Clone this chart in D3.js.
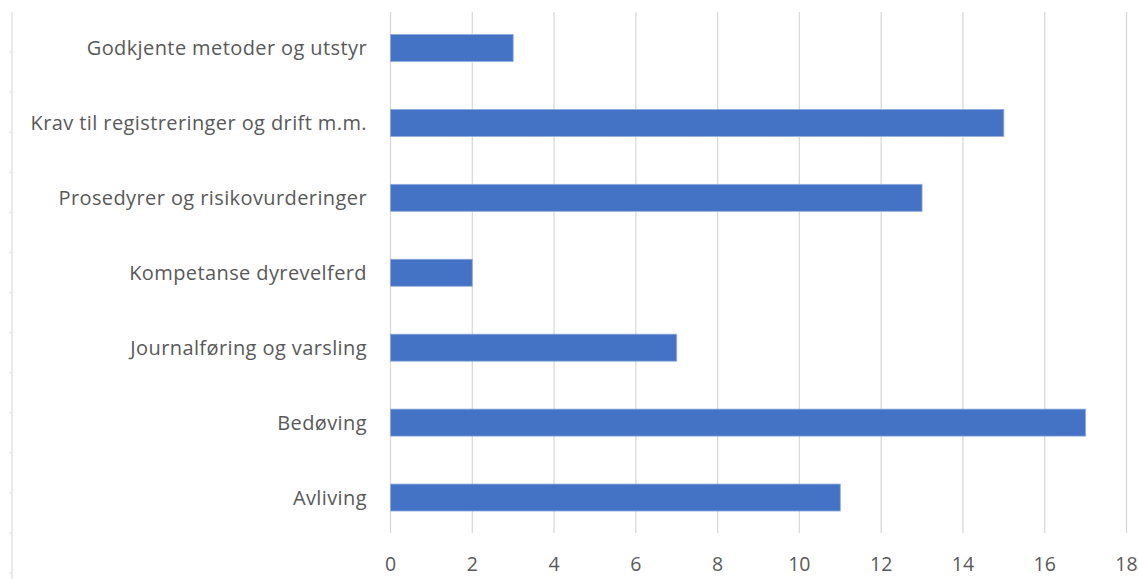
<!DOCTYPE html>
<html>
<head>
<meta charset="utf-8">
<script src="https://cdn.jsdelivr.net/npm/d3@7"></script>
<style>
  body { margin: 0; background: #ffffff; }
  svg { display: block; }
  .tick-label, .cat-label { font-family: "Open Sans", sans-serif; fill: #595959; }
</style>
</head>
<body>
<div id="chart"></div>
<script>
const categories = [
    "Godkjente metoder og utstyr",
    "Krav til registreringer og drift m.m.",
    "Prosedyrer og risikovurderinger",
    "Kompetanse dyrevelferd",
    "Journalføring og varsling",
    "Bedøving",
    "Avliving"
];
const counts = [3, 15, 13, 2, 7, 17, 11];
const xTicks = [0, 2, 4, 6, 8, 10, 12, 14, 16, 18];

const width = 1138;
const height = 579;
const barColor = "#4472c4";
const gridColor = "#d9d9d9";

const data = categories.map((c, i) => ({ category: c, value: counts[i] }));

const xScale = d3.scaleLinear().domain([0, 18]).range([390.5, 1126.5]);
const yScale = d3.scaleBand()
    .domain(categories)
    .range([10.5, 535])
    .paddingInner(0.64)
    .paddingOuter(0.32);

const svg = d3.select("#chart")
    .append("svg")
    .attr("width", width)
    .attr("height", height);

// frame edge on the left, with its small ticks
const frameScale = d3.scaleLinear().domain([0, 14]).range([12, 573]);
svg.append("line")
    .attr("x1", 12).attr("x2", 12)
    .attr("y1", 12).attr("y2", height)
    .attr("stroke", "#e3e3e3")
    .attr("stroke-width", 1.5);
svg.selectAll(".frame-tick")
    .data(d3.range(1, 15))
    .join("line")
    .attr("class", "frame-tick")
    .attr("x1", 9).attr("x2", 12)
    .attr("y1", d => frameScale(d)).attr("y2", d => frameScale(d))
    .attr("stroke", "#e3e3e3");

// vertical gridlines
svg.selectAll(".grid")
    .data(xTicks)
    .join("line")
    .attr("class", "grid")
    .attr("x1", d => xScale(d)).attr("x2", d => xScale(d))
    .attr("y1", 12).attr("y2", 533)
    .attr("stroke", gridColor)
    .attr("stroke-width", 1.3);

// bars
svg.selectAll(".bar")
    .data(data)
    .join("rect")
    .attr("class", "bar")
    .attr("x", xScale(0))
    .attr("y", d => yScale(d.category))
    .attr("width", d => xScale(d.value) - xScale(0))
    .attr("height", yScale.bandwidth())
    .attr("fill", barColor)
    .attr("stroke", "#8faadc")
    .attr("stroke-width", 0.8);

// category labels
svg.selectAll(".cat-label")
    .data(categories)
    .join("text")
    .attr("class", "cat-label")
    .attr("x", 367)
    .attr("y", d => yScale(d) + yScale.bandwidth() / 2)
    .attr("dy", "0.36em")
    .attr("text-anchor", "end")
    .style("font-size", "20px")
    .style("letter-spacing", "0.4px")
    .text(d => d);

// x tick labels
svg.selectAll(".tick-label")
    .data(xTicks)
    .join("text")
    .attr("class", "tick-label")
    .attr("x", d => xScale(d))
    .attr("y", 571)
    .attr("text-anchor", "middle")
    .style("font-size", "19.5px")
    .text(d => d);
</script>
</body>
</html>
